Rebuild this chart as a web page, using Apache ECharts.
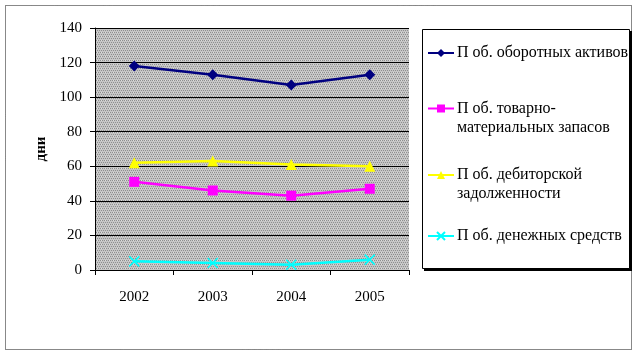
<!DOCTYPE html>
<html>
<head>
<meta charset="utf-8">
<script src="https://cdn.jsdelivr.net/npm/echarts@6/dist/echarts.min.js"></script>
<style>
html,body{margin:0;padding:0;background:#fff;}
#c{width:638px;height:356px;}
</style>
</head>
<body>
<div id="c"></div>
<script>
var categories = ['2002', '2003', '2004', '2005'];
var seriesNames = ['П об. оборотных активов', 'П об. товарно-\nматериальных запасов', 'П об. дебиторской\nзадолженности', 'П об. денежных средств'];
var assetsTurnover = [118, 113, 107, 113];
var inventoryTurnover = [51, 46, 43, 47];
var receivablesTurnover = [62, 63, 61, 60];
var cashTurnover = [5, 4, 3, 6];
var yTicks = [0, 20, 40, 60, 80, 100, 120, 140];

var font = '"Liberation Serif", "Times New Roman", serif';

// dotted grey pattern for the plot area
var pc = document.createElement('canvas');
pc.width = 4; pc.height = 4;
var pctx = pc.getContext('2d');
pctx.fillStyle = '#c6c6c6';
pctx.fillRect(0, 0, 4, 4);
pctx.fillStyle = '#8e8e8e';
pctx.fillRect(0, 0, 1, 1);
pctx.fillRect(2, 0, 1, 1);
pctx.fillRect(1, 2, 1, 1);
pctx.fillRect(3, 2, 1, 1);
pctx.fillStyle = '#dddddd';
pctx.fillRect(1, 0, 1, 1);
pctx.fillRect(3, 2, 0, 0);

var chart = echarts.init(document.getElementById('c'), null, {renderer: 'canvas'});

var colors = ['#000080', '#ff00ff', '#ffff00', '#00ffff'];
var symbols = ['diamond', 'rect', 'triangle', 'path://M0,0L10,10M10,0L0,10'];
var symbolSizes = [11, 10, 11, 10];
var datasets = [assetsTurnover, inventoryTurnover, receivablesTurnover, cashTurnover];

var series = datasets.map(function (d, i) {
  return {
    name: seriesNames[i],
    type: 'line',
    data: d,
    symbol: symbols[i],
    symbolSize: symbolSizes[i],
    showAllSymbol: true,
    lineStyle: {color: colors[i], width: 2.5},
    itemStyle: {color: colors[i], borderColor: colors[i], borderWidth: i === 3 ? 1.5 : 0},
    emphasis: {disabled: true},
    animation: false
  };
});

var legendTops = [44, 80, 146.5, 227];
var legendLineHeights = [18, 19, 19, 18];
var legends = seriesNames.map(function (n, i) {
  var multi = n.indexOf('\n') >= 0;
  return {
    data: [n],
    left: 427,
    top: legendTops[i],
    orient: 'vertical',
    itemWidth: 26,
    itemHeight: 10,
    itemGap: 0,
    padding: 0,
    selectedMode: false,
    formatter: function (name) { return multi ? '\n' + name : name; },
    textStyle: {fontFamily: font, fontSize: 16, color: '#000', lineHeight: legendLineHeights[i], padding: [0, 0, 0, -2]}
  };
});

chart.setOption({
  animation: false,
  backgroundColor: '#fff',
  color: colors,
  graphic: [
    {type: 'rect', shape: {x: 5.5, y: 5.5, width: 626, height: 344}, style: {fill: 'none', stroke: '#111', lineWidth: 1, lineDash: [1, 1]}, z: -1},
    {type: 'rect', shape: {x: 424, y: 31, width: 208, height: 240}, style: {fill: '#000'}, z: -1},
    {type: 'rect', shape: {x: 422.5, y: 29.5, width: 207, height: 239}, style: {fill: '#fff', stroke: '#000', lineWidth: 1}, z: 0}
  ],
  legend: legends,
  grid: {
    left: 95, top: 28, right: 229, bottom: 86,
    show: true,
    backgroundColor: {image: pc, repeat: 'repeat'},
    borderWidth: 0
  },
  xAxis: {
    type: 'category',
    data: categories,
    boundaryGap: true,
    axisLine: {lineStyle: {color: '#000', width: 1}},
    axisTick: {show: true, length: 5, lineStyle: {color: '#000'}},
    axisLabel: {fontFamily: font, fontSize: 15, color: '#000', margin: 20}
  },
  yAxis: {
    type: 'value',
    min: yTicks[0],
    max: yTicks[yTicks.length - 1],
    interval: 20,
    name: 'дни',
    nameLocation: 'middle',
    nameRotate: 90,
    nameGap: 46,
    nameTextStyle: {fontFamily: font, fontSize: 15, fontWeight: 'bold', color: '#000'},
    axisLine: {show: true, lineStyle: {color: '#000', width: 1}},
    axisTick: {show: true, length: 5, lineStyle: {color: '#000'}},
    axisLabel: {fontFamily: font, fontSize: 15, color: '#000', margin: 13},
    splitLine: {show: true, lineStyle: {color: '#000', width: 1}}
  },
  series: series
});
</script>
</body>
</html>
